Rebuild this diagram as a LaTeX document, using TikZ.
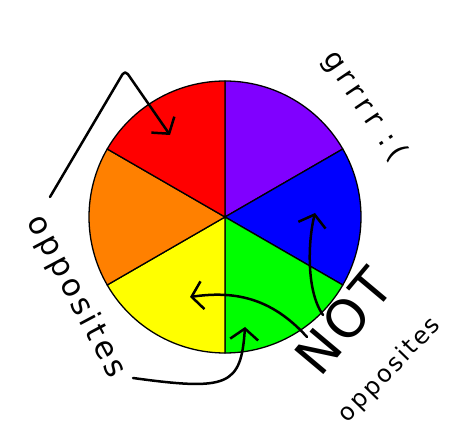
\documentclass[tikz,border=0pt]{standalone}
\usepackage{fontspec}
\setmainfont{DejaVu Sans}
\usepackage{tikz}
\usetikzlibrary{arrows.meta}
\definecolor{wheelred}{RGB}{255,0,0}
\definecolor{wheelorange}{RGB}{255,128,0}
\definecolor{wheelyellow}{RGB}{255,255,0}
\definecolor{wheelgreen}{RGB}{0,255,0}
\definecolor{wheelblue}{RGB}{0,0,255}
\definecolor{wheelpurple}{RGB}{128,0,255}
\tikzset{
  wedge/.style={draw=black, line width=1.3pt, line join=round},
  scrawl/.style={inner sep=0pt},
  handarrow/.style={-{Straight Barb[length=11pt, width=28pt, line width=2.5pt]},
    line width=2.5pt, line cap=round, line join=round, black},
}

\begin{document}
\begin{tikzpicture}[x=1pt, y=1pt]

  \useasboundingbox (0,0) rectangle (450,431);
  \fill[white] (0,0) rectangle (450,431);

  %% wheel
  \coordinate (c) at (225,214);
  \filldraw[wedge, fill=wheelpurple] (c) -- ++(90:136) arc[start angle=90, end angle=30, radius=136] -- cycle;
  \filldraw[wedge, fill=wheelblue] (c) -- ++(30:136) arc[start angle=30, end angle=-30, radius=136] -- cycle;
  \filldraw[wedge, fill=wheelgreen] (c) -- ++(-30:136) arc[start angle=-30, end angle=-90, radius=136] -- cycle;
  \filldraw[wedge, fill=wheelyellow] (c) -- ++(-90:136) arc[start angle=-90, end angle=-150, radius=136] -- cycle;
  \filldraw[wedge, fill=wheelorange] (c) -- ++(-150:136) arc[start angle=-150, end angle=-210, radius=136] -- cycle;
  \filldraw[wedge, fill=wheelred] (c) -- ++(150:136) arc[start angle=150, end angle=90, radius=136] -- cycle;

  %% scribbled words
  \node[scrawl, font=\fontsize{31}{31}\selectfont\addfontfeatures{LetterSpace=12}, rotate=-62]
    (oppLeft) at (76,134) {opposites};
  \node[scrawl, font=\fontsize{52}{52}\selectfont\addfontfeatures{LetterSpace=6}, rotate=50]
    (notTxt) at (344,110) {NOT};
  \node[scrawl, font=\fontsize{24}{24}\selectfont\addfontfeatures{LetterSpace=10}, rotate=46]
    (oppRight) at (390,61) {opposites};
  \node[scrawl, font=\fontsize{29}{29}\selectfont\addfontfeatures{LetterSpace=18}, rotate=-56]
    (grrTxt) at (364,325) {grrrr :(};

  %% arrow ends
  \coordinate (tailA) at (50,234);
  \coordinate (tailB) at (133,53);
  \coordinate (tailC) at (307,94);
  \coordinate (tailD) at (323,116);
  \coordinate (redTip) at (170,296);
  \coordinate (greenTip) at (245,104);
  \coordinate (yellowTip) at (190,134);
  \coordinate (blueTip) at (315,218);

  %% arrows
  \draw[handarrow, rounded corners=5pt] (tailA) -- (125,361) -- (redTip);
  \draw[handarrow] (tailB) .. controls (228,40) and (241,45) .. (greenTip);
  \draw[handarrow] (tailC) .. controls (270,135) and (232,140) .. (yellowTip);
  \draw[handarrow] (tailD) .. controls (306,140) and (308,190) .. (blueTip);

\end{tikzpicture}
\end{document}
